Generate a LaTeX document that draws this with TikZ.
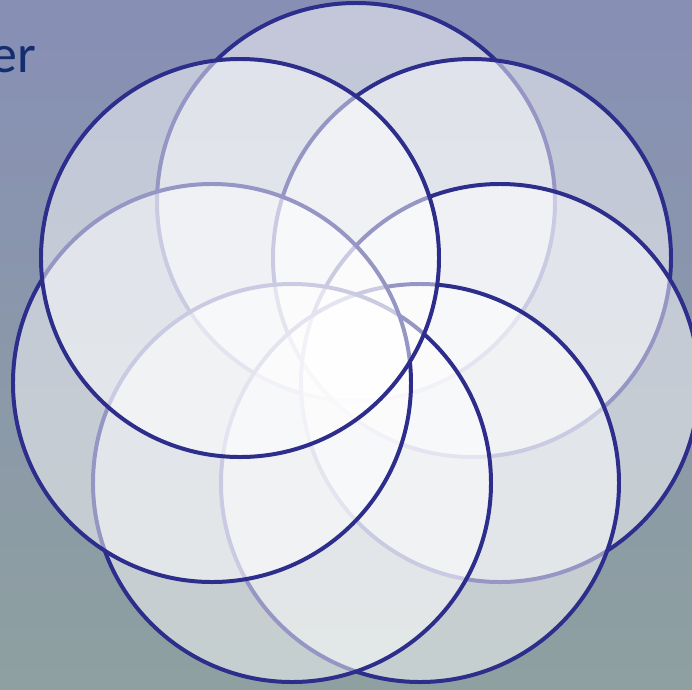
\documentclass[tikz,border=0pt]{standalone}
\usepackage{fontspec}
\setmainfont{Carlito}
\usepackage{xcolor}
\definecolor{skytop}{RGB}{135,143,181}
\definecolor{skybottom}{RGB}{142,160,160}
\definecolor{ringline}{RGB}{45,45,140}
\definecolor{titleblue}{RGB}{20,45,110}

\begin{document}
\begin{tikzpicture}[
    x=0.03cm, y=-0.03cm,
    ring/.style={circle, draw=ringline, line width=3.4pt, fill=white, fill opacity=0.5, draw opacity=1, minimum size=11.94cm, inner sep=0pt},
    title/.style={text=titleblue, font=\fontsize{46}{46}\selectfont, inner sep=0pt}
  ]
    \useasboundingbox (0,0) rectangle (692,689);
    \clip (0,0) rectangle (692,689);
    \shade[top color=skytop, bottom color=skybottom] (0,0) rectangle (692,689);

    \node[title, anchor=base east] (heading) at (36,72) {er};

    \node[ring] (top) at (356,202) {};
    \node[ring] (upright) at (472,258) {};
    \node[ring] (right) at (500,383) {};
    \node[ring] (lowright) at (420,483) {};
    \node[ring] (lowleft) at (292,483) {};
    \node[ring] (left) at (212,383) {};
    \node[ring] (upleft) at (240,258) {};
  \end{tikzpicture}
\end{document}
